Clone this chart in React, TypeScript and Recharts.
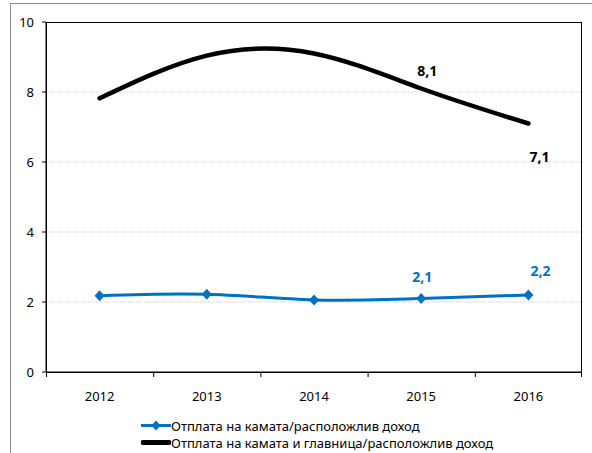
import React from "react";
import { LineChart, Line, XAxis, YAxis, CartesianGrid, LabelList } from "recharts";

// Years on the horizontal axis
const years = ["2012", "2013", "2014", "2015", "2016"];
// Interest payments / disposable income (%)
const interestRatio = [2.18, 2.22, 2.06, 2.1, 2.2];
// Interest and principal payments / disposable income (%)
const totalRatio = [7.82, 9.04, 9.1, 8.1, 7.1];
// Printed value labels (null = no label)
const interestLabels = [null, null, null, "2,1", "2,2"];
const totalLabels = [null, null, null, "8,1", "7,1"];
const yTicks = [0, 2, 4, 6, 8, 10];

const seriesNames = {
  interest: "Отплата на камата/расположлив доход",
  total: "Отплата на камата и главница/расположлив доход",
};

const BLUE = "#0070C0";
const FONT = "'Noto Sans', 'DejaVu Sans', sans-serif";

// Layout
const WIDTH = 592;
const HEIGHT = 453;
const Y_AXIS_W = 46;
const X_AXIS_H = 81;
const MARGIN = { top: 22, right: 10, bottom: 0, left: 0 };
const PLOT = {
  x: MARGIN.left + Y_AXIS_W,
  y: MARGIN.top,
  w: WIDTH - MARGIN.left - Y_AXIS_W - MARGIN.right,
  h: HEIGHT - MARGIN.top - X_AXIS_H - MARGIN.bottom,
};

const data = years.map((year, i) => ({
  year,
  interest: interestRatio[i],
  total: totalRatio[i],
  interestLabel: interestLabels[i],
  totalLabel: totalLabels[i],
}));

// Label placement relative to the point, per series and index
const interestLabelOffset: Record<number, [number, number]> = {
  3: [1, -22],
  4: [12, -25],
};
const totalLabelOffset: Record<number, [number, number]> = {
  3: [6, -18],
  4: [11, 33],
};

const makeLabel =
  (color: string, offsets: Record<number, [number, number]>) =>
  (props: any) => {
    const { x, y, value, index } = props;
    if (value == null) return null;
    const [dx, dy] = offsets[index] || [0, -15];
    return (
      <text
        x={x + dx}
        y={y + dy}
        textAnchor="middle"
        dominantBaseline="central"
        fill={color}
        fontFamily={FONT}
        fontSize={14}
        fontWeight="bold"
      >
        {value}
      </text>
    );
  };

const Diamond = (props: any) => {
  const { cx, cy } = props;
  if (cx == null || cy == null) return null;
  return (
    <path
      d={`M${cx},${cy - 5.5} L${cx + 5},${cy} L${cx},${cy + 5.5} L${cx - 5},${cy} Z`}
      fill={BLUE}
    />
  );
};

const YearTick = (props: any) => {
  const { x, y, payload } = props;
  return (
    <text x={x} y={y} dy="0.71em" textAnchor="middle" fill="#000" fontFamily={FONT} fontSize={13}>
      {payload.value}
    </text>
  );
};

// Black frame round the plot area, with tick marks on the category boundaries
const PlotFrame = () => {
  const step = PLOT.w / years.length;
  const bottom = PLOT.y + PLOT.h;
  return (
    <svg
      width={WIDTH}
      height={HEIGHT}
      style={{ position: "absolute", left: 0, top: 0, pointerEvents: "none" }}
    >
      <rect
        x={PLOT.x + 0.5}
        y={PLOT.y + 0.5}
        width={PLOT.w - 1}
        height={PLOT.h}
        fill="none"
        stroke="#000"
      />
      {Array.from({ length: years.length + 1 }, (_, i) => {
        const tx = Math.min(PLOT.x + i * step, PLOT.x + PLOT.w) + (i === years.length ? -0.5 : 0.5);
        return <line key={i} x1={tx} x2={tx} y1={bottom} y2={bottom + 5} stroke="#000" />;
      })}
    </svg>
  );
};

const LegendRow = ({ kind, label }: { kind: "interest" | "total"; label: string }) => (
  <div style={{ display: "flex", alignItems: "center", height: 17 }}>
    <svg width={30} height={17} style={{ display: "block" }}>
      {kind === "interest" ? (
        <g>
          <line x1={0} x2={30} y1={8.5} y2={8.5} stroke={BLUE} strokeWidth={3} />
          <path d="M15,3.5 L19.5,8.5 L15,13.5 L10.5,8.5 Z" fill={BLUE} />
        </g>
      ) : (
        <line x1={2} x2={28} y1={8.5} y2={8.5} stroke="#000" strokeWidth={5} strokeLinecap="round" />
      )}
    </svg>
    <span style={{ fontFamily: FONT, fontSize: 13, color: "#000", whiteSpace: "nowrap" }}>
      {label}
    </span>
  </div>
);

export default function App() {
  return (
    <div
      style={{
        position: "absolute",
        left: 0,
        top: 0,
        width: WIDTH,
        height: HEIGHT,
        overflow: "hidden",
        background: "#fff",
      }}
    >
      {/* outer frame */}
      <div
        style={{
          position: "absolute",
          left: 10,
          top: 3,
          width: 700,
          height: 600,
          border: "1px solid #8c8c8c",
          boxSizing: "border-box",
        }}
      />
      <div style={{ position: "absolute", left: 0, top: 0 }}>
        <LineChart width={WIDTH} height={HEIGHT} data={data} margin={MARGIN}>
          <CartesianGrid
            vertical={false}
            stroke="#cfcfcf"
            strokeDasharray="1 1"
            horizontalValues={[2, 4, 6, 8]}
          />
          <XAxis
            dataKey="year"
            scale="band"
            height={X_AXIS_H}
            axisLine={{ stroke: "#000" }}
            tickLine={false}
            tickSize={5}
            tickMargin={15}
            tick={<YearTick />}
            interval={0}
          />
          <YAxis
            width={Y_AXIS_W}
            domain={[0, 10]}
            ticks={yTicks}
            interval={0}
            axisLine={{ stroke: "#000" }}
            tickLine={{ stroke: "#000" }}
            tickSize={4}
            tickMargin={8}
            tick={{ fill: "#000", fontFamily: FONT, fontSize: 13 }}
          />
          <Line
            dataKey="total"
            type="natural"
            stroke="#000"
            strokeWidth={4.5}
            strokeLinecap="round"
            dot={false}
            activeDot={false}
            isAnimationActive={false}
          >
            <LabelList dataKey="totalLabel" content={makeLabel("#000", totalLabelOffset)} />
          </Line>
          <Line
            dataKey="interest"
            type="natural"
            stroke={BLUE}
            strokeWidth={3}
            dot={<Diamond />}
            activeDot={false}
            isAnimationActive={false}
          >
            <LabelList dataKey="interestLabel" content={makeLabel(BLUE, interestLabelOffset)} />
          </Line>
        </LineChart>
      </div>
      <PlotFrame />
      <div style={{ position: "absolute", left: 141, top: 417 }}>
        <LegendRow kind="interest" label={seriesNames.interest} />
        <LegendRow kind="total" label={seriesNames.total} />
      </div>
    </div>
  );
}
